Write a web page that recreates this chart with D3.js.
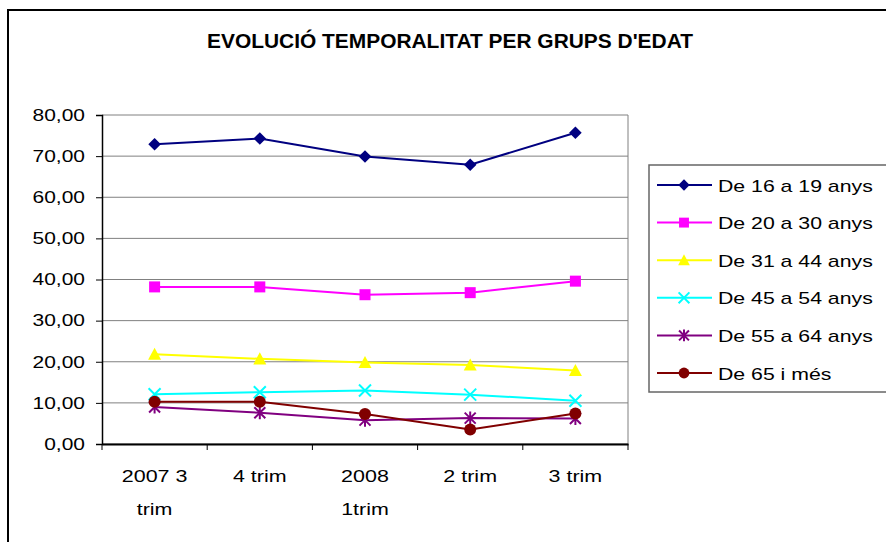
<!DOCTYPE html>
<html>
<head>
<meta charset="utf-8">
<script src="https://cdn.jsdelivr.net/npm/d3@7"></script>
<style>
  body { margin: 0; background: #fff; }
  svg text { font-family: "Liberation Sans", Arial, sans-serif; }
</style>
</head>
<body>
<svg id="chart" width="886" height="542"></svg>
<script>
// temporalitat per grups d'edat
var categories = ["2007 3 trim", "4 trim", "2008 1trim", "2 trim", "3 trim"];
var seriesNames = ["De 16 a 19 anys", "De 20 a 30 anys", "De 31 a 44 anys",
                   "De 45 a 54 anys", "De 55 a 64 anys", "De 65 i més"];
var s16_19 = [72.9, 74.3, 69.9, 67.9, 75.7];
var s20_30 = [38.2, 38.2, 36.3, 36.8, 39.6];
var s31_44 = [21.8, 20.7, 19.8, 19.2, 17.9];
var s45_54 = [12.1, 12.6, 13.0, 12.0, 10.5];
var s55_64 = [9.0, 7.6, 5.8, 6.3, 6.2];
var s65 = [10.3, 10.3, 7.3, 3.5, 7.4];
var yTicks = [0, 10, 20, 30, 40, 50, 60, 70, 80];

var colors = ["#000080", "#ff00ff", "#ffff00", "#00ffff", "#800080", "#800000"];
var shapes = ["diamond", "square", "triangle", "x", "star", "circle"];
var allSeries = [s16_19, s20_30, s31_44, s45_54, s55_64, s65];

var svg = d3.select("#chart"),
    margin = {top: 115, left: 102},
    width = 526,
    height = 329;

// excel draws its text a bit wider than arial
function stretch(sel, f) {
  sel.each(function() {
    var len = this.getComputedTextLength();
    d3.select(this).attr("textLength", len * f).attr("lengthAdjust", "spacingAndGlyphs");
  });
}

// outer frame (runs off the right and bottom)
svg.append("rect")
    .attr("x", 8).attr("y", 10)
    .attr("width", 900).attr("height", 560)
    .attr("fill", "none").attr("stroke", "#000").attr("stroke-width", 2);

svg.append("text")
    .attr("x", 450).attr("y", 48)
    .attr("text-anchor", "middle")
    .attr("font-size", 20).attr("font-weight", "bold")
    .attr("textLength", 486).attr("lengthAdjust", "spacingAndGlyphs")
    .text("EVOLUCIÓ TEMPORALITAT PER GRUPS D'EDAT");

var g = svg.append("g").attr("transform", "translate(" + margin.left + "," + margin.top + ")");

var x = d3.scaleBand().domain(categories).range([0, width]);
var y = d3.scaleLinear().domain([0, 80]).range([height, 0]);

// gridlines + plot frame
g.selectAll(".grid").data(yTicks).enter().append("line")
    .attr("x1", 0).attr("x2", width)
    .attr("y1", function(d) { return y(d); }).attr("y2", function(d) { return y(d); })
    .attr("stroke", "#808080").attr("stroke-width", 1);
g.append("line").attr("x1", width).attr("x2", width).attr("y1", 0).attr("y2", height)
    .attr("stroke", "#808080");

var fmt = function(d) { return d3.format(".2f")(d).replace(".", ","); };

var yAxis = g.append("g")
    .call(d3.axisLeft(y).tickValues(yTicks).tickFormat(fmt).tickSize(6).tickPadding(11));
yAxis.select(".domain").attr("stroke", "#000").attr("stroke-width", 1.5);
yAxis.selectAll("line").attr("stroke", "#000");
yAxis.selectAll("text").attr("font-size", 16.5).attr("fill", "#000")
    .style("font-family", "'Liberation Sans', Arial, sans-serif");
stretch(yAxis.selectAll("text"), 1.27);

var xAxis = g.append("g").attr("transform", "translate(0," + height + ")")
    .call(d3.axisBottom(x).tickSize(0).tickFormat(""));
xAxis.select(".domain").attr("stroke", "#000").attr("stroke-width", 2);
xAxis.selectAll(".sep").data(d3.range(categories.length + 1)).enter().append("line")
    .attr("class", "sep")
    .attr("x1", function(i) { return i * x.step(); }).attr("x2", function(i) { return i * x.step(); })
    .attr("y1", 0).attr("y2", 6).attr("stroke", "#000");

// wrapped category labels
function wrapLines(label) {
  var words = label.split(" "), lines = [], cur = "";
  words.forEach(function(w) {
    var t = cur ? cur + " " + w : w;
    if (t.length > 6 && cur) { lines.push(cur); cur = w; } else cur = t;
  });
  lines.push(cur);
  return lines;
}
categories.forEach(function(c) {
  wrapLines(c).forEach(function(line, i) {
    g.append("text").attr("class", "xlab")
        .attr("x", x(c) + x.bandwidth() / 2)
        .attr("y", height + 38 + i * 33)
        .attr("text-anchor", "middle").attr("font-size", 16.5)
        .text(line);
  });
});
stretch(g.selectAll(".xlab"), 1.3);

function drawMarker(sel, shape, color, cx, cy, sc) {
  var s = 6.3 * sc;
  if (shape === "diamond") {
    sel.append("path").attr("d", "M" + cx + "," + (cy - s) + "L" + (cx + s) + "," + cy + "L" + cx + "," + (cy + s) + "L" + (cx - s) + "," + cy + "Z").attr("fill", color);
  } else if (shape === "square") {
    var h = 5.5 * sc;
    sel.append("rect").attr("x", cx - h).attr("y", cy - h).attr("width", 2 * h).attr("height", 2 * h).attr("fill", color);
  } else if (shape === "triangle") {
    var t = 6.5 * sc;
    sel.append("path").attr("d", "M" + cx + "," + (cy - t) + "L" + (cx + t) + "," + (cy + t * 0.85) + "L" + (cx - t) + "," + (cy + t * 0.85) + "Z").attr("fill", color);
  } else if (shape === "x") {
    var a = 6 * sc;
    sel.append("path").attr("d", "M" + (cx - a) + "," + (cy - a) + "L" + (cx + a) + "," + (cy + a) + "M" + (cx + a) + "," + (cy - a) + "L" + (cx - a) + "," + (cy + a))
      .attr("stroke", color).attr("stroke-width", 2);
  } else if (shape === "star") {
    var b = 5.5 * sc;
    sel.append("path").attr("d", "M" + (cx - b) + "," + (cy - b) + "L" + (cx + b) + "," + (cy + b) + "M" + (cx + b) + "," + (cy - b) + "L" + (cx - b) + "," + (cy + b) + "M" + cx + "," + (cy - b - 1) + "L" + cx + "," + (cy + b + 1))
      .attr("stroke", color).attr("stroke-width", 2);
  } else {
    sel.append("circle").attr("cx", cx).attr("cy", cy).attr("r", 6 * sc).attr("fill", color);
  }
}

var line = d3.line()
    .x(function(d, i) { return x(categories[i]) + x.bandwidth() / 2; })
    .y(function(d) { return y(d); });

allSeries.forEach(function(vals, k) {
  var sg = g.append("g");
  sg.append("path").datum(vals).attr("d", line)
      .attr("fill", "none").attr("stroke", colors[k]).attr("stroke-width", 2);
  vals.forEach(function(v, i) {
    drawMarker(sg, shapes[k], colors[k], x(categories[i]) + x.bandwidth() / 2, y(v), 1);
  });
});

// legend
var lg = svg.append("g");
lg.append("rect").attr("x", 649).attr("y", 165).attr("width", 260).attr("height", 227)
    .attr("fill", "#fff").attr("stroke", "#666").attr("stroke-width", 1.5);
seriesNames.forEach(function(name, k) {
  var ly = 185 + k * 37.6;
  lg.append("line").attr("x1", 657).attr("x2", 712).attr("y1", ly).attr("y2", ly)
      .attr("stroke", colors[k]).attr("stroke-width", 2);
  drawMarker(lg, shapes[k], colors[k], 684, ly, 0.9);
  lg.append("text").attr("class", "ltxt").attr("x", 718).attr("y", ly + 6.5).attr("font-size", 17).text(name);
});
stretch(lg.selectAll(".ltxt"), 1.25);
</script>
</body>
</html>
